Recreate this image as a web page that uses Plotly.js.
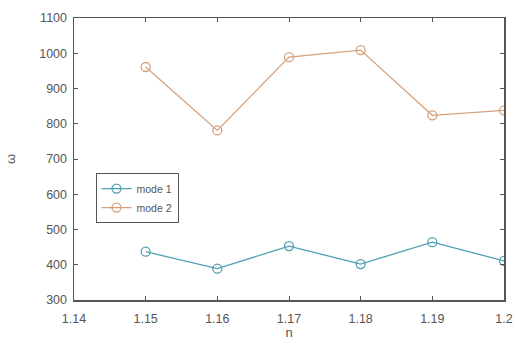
<!DOCTYPE html>
<html><head><meta charset="utf-8">
<script src="https://cdn.plot.ly/plotly-3.0.1.min.js"></script>
<style>html,body{margin:0;padding:0;background:#fff}#chart{width:516px;height:346px}</style>
</head><body><div id="chart"></div>
<script>
const nValues = [1.15, 1.16, 1.17, 1.18, 1.19, 1.2];
const mode1 = [437, 389, 453, 402, 464, 411];
const mode2 = [961, 781, 989, 1009, 824, 838];
const seriesNames = ['mode 1', 'mode 2'];
const xTicks = [1.14, 1.15, 1.16, 1.17, 1.18, 1.19, 1.2];
const xTickText = ['1.14', '1.15', '1.16', '1.17', '1.18', '1.19', '1.2'];
const yTicks = [300, 400, 500, 600, 700, 800, 900, 1000, 1100];

const font = {family: 'Liberation Sans, Arial, sans-serif', size: 12.5, color: '#555'};
const axisCommon = {
  showline: true, mirror: 'ticks', linecolor: '#555', linewidth: 1.5,
  ticks: 'inside', ticklen: 4, tickcolor: '#555', showgrid: false, zeroline: false,
  tickfont: font
};
const traces = [
  {x: nValues, y: mode1, name: seriesNames[0], mode: 'lines+markers', type: 'scatter',
   line: {color: '#4fa0b4', width: 1.3},
   marker: {symbol: 'circle-open', size: 9, color: '#4fa0b4', line: {width: 1.3}}},
  {x: nValues, y: mode2, name: seriesNames[1], mode: 'lines+markers', type: 'scatter',
   line: {color: '#d6a27e', width: 1.3},
   marker: {symbol: 'circle-open', size: 9, color: '#d6a27e', line: {width: 1.3}}}
];
const layout = {
  width: 516, height: 346,
  margin: {l: 74, r: 12, t: 18, b: 46},
  paper_bgcolor: '#fff', plot_bgcolor: '#fff',
  font: font,
  showlegend: true,
  legend: {x: 0.05, y: 0.45, xanchor: 'left', yanchor: 'top', bgcolor: '#fff',
    bordercolor: '#555', borderwidth: 1, font: {family: font.family, size: 10.5, color: '#555'},
    tracegroupgap: 0},
  xaxis: Object.assign({}, axisCommon, {range: [1.14, 1.2], tickvals: xTicks, ticktext: xTickText,
    ticklabelstandoff: 6,
    title: {text: 'n', font: {family: font.family, size: 13, color: '#555'}, standoff: 2}}),
  yaxis: Object.assign({}, axisCommon, {range: [300, 1100], tickvals: yTicks,
    ticklabelstandoff: 3,
    title: {text: 'ω', font: {family: font.family, size: 13, color: '#555'}, standoff: 20}})
};
Plotly.newPlot('chart', traces, layout, {displayModeBar: false, staticPlot: true});
</script></body></html>
